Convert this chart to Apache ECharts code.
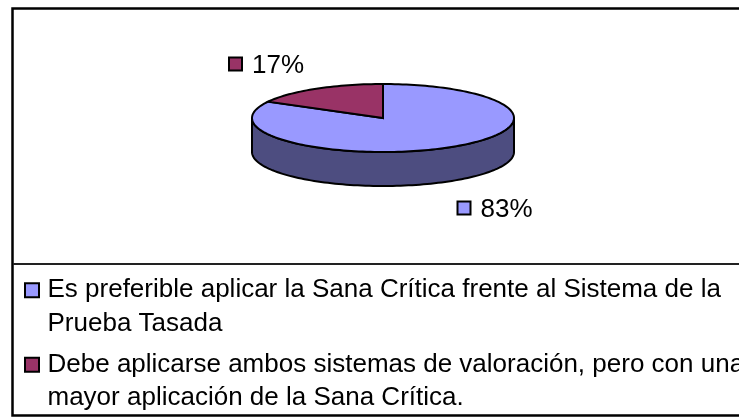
<!DOCTYPE html>
<html><head><meta charset="utf-8">
<style>html,body{margin:0;padding:0;background:#fff}#c{width:739px;height:419px}</style>
<script src="https://cdn.jsdelivr.net/npm/echarts@6/dist/echarts.min.js"></script>
</head><body><div id="c"></div>
<script>
const categories = ["Es preferible aplicar la Sana Crítica frente al Sistema de la\nPrueba Tasada","Debe aplicarse ambos sistemas de valoración, pero con una\nmayor aplicación de la Sana Crítica."];
const values = [83, 17];
const colors = ["#9999FF", "#993366"];
const sideColor = "#4D4D80";
const labels = ["83%", "17%"];
const labelPos = [[457.5,201.5],[229,57.5]];
const chart = echarts.init(document.getElementById('c'), null, {renderer:'canvas'});
const CX=383, CY=118, RX=131, RY=34, DEPTH=34;
const total = values.reduce((a,b)=>a+b,0);
function pt(a,dy){return [CX+RX*Math.sin(a), CY+(dy||0)-RY*Math.cos(a)];}
function arc(a0,a1,dy){const n=Math.max(2,Math.ceil(Math.abs(a1-a0)/0.03));const p=[];for(let i=0;i<=n;i++)p.push(pt(a0+(a1-a0)*i/n,dy));return p;}
function startOf(i){return values.slice(0,i).reduce((a,b)=>a+b,0)/total*Math.PI*2;}
function renderSlice(i){
  return function(params,api){
    const a0=startOf(i), a1=a0+values[i]/total*Math.PI*2;
    const children=[];
    const s0=Math.max(a0,Math.PI/2), s1=Math.min(a1,Math.PI*1.5);
    if(s1>s0){
      children.push({type:'polygon',shape:{points:arc(s0,s1,0).concat(arc(s1,s0,DEPTH))},style:{fill:sideColor,stroke:'#000',lineWidth:2}});
    }
    children.push({type:'polygon',shape:{points:[[CX,CY]].concat(arc(a0,a1,0))},style:{fill:colors[i],stroke:'#000',lineWidth:2}});
    children.push({type:'rect',shape:{x:labelPos[i][0],y:labelPos[i][1],width:13,height:13},style:{fill:colors[i],stroke:'#000',lineWidth:2}});
    children.push({type:'text',style:{x:labelPos[i][0]+23,y:labelPos[i][1]+8,text:labels[i],fill:'#000',font:'26px "Liberation Sans"',verticalAlign:'middle'}});
    return {type:'group',children};
  };
}
chart.setOption({
  animation:false,
  backgroundColor:'#fff',
  graphic:[
    {type:'rect',z:-1,shape:{x:12.5,y:8.5,width:740,height:407},style:{fill:'#fff',stroke:'#000',lineWidth:2.5}},
    {type:'line',z:-1,shape:{x1:13,y1:264,x2:739,y2:264},style:{stroke:'#222',lineWidth:2}}
  ],
  legend:{
    show:true,orient:'vertical',left:24,top:240,padding:0,itemWidth:21,itemHeight:14,itemGap:-26,
    icon:'path://M0 0H14V14H0Z',symbolKeepAspect:true,selectedMode:false,
    data:categories,
    formatter:n=>'\n'+n,
    itemStyle:{borderColor:'#000',borderWidth:2},
    textStyle:{fontFamily:'Liberation Sans',fontSize:26,lineHeight:33.5,color:'#000'}
  },
  series:categories.map((n,i)=>({type:'custom',name:n,coordinateSystem:'none',z:i===0?2:3,
    itemStyle:{color:colors[i]},data:[values[i]],renderItem:renderSlice(i),silent:true}))
});
</script></body></html>
